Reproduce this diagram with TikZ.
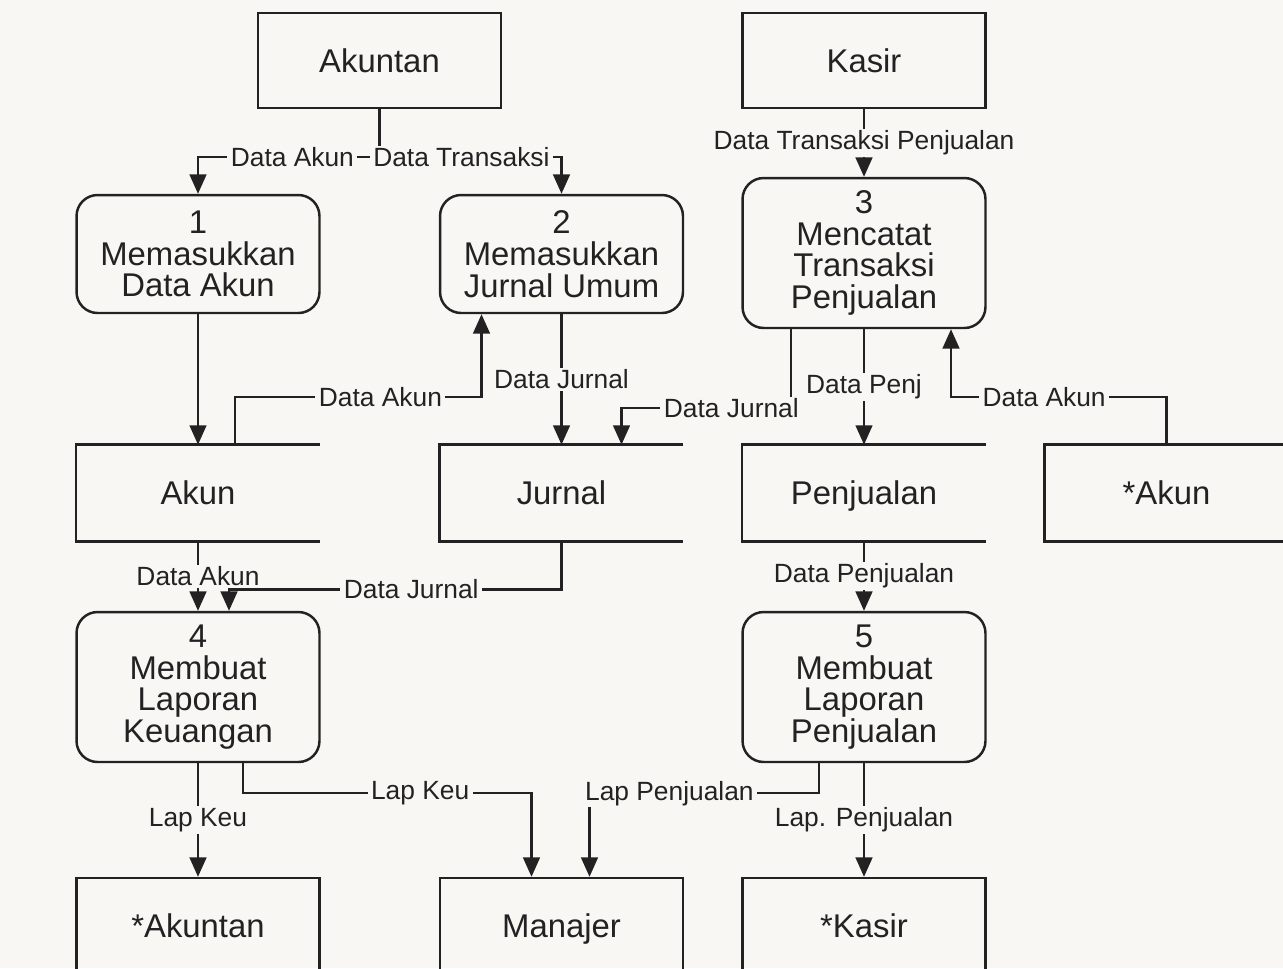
\documentclass[tikz,border=0pt]{standalone}
\usepackage{fontspec}
\setmainfont{Liberation Sans}
\usetikzlibrary{calc,arrows.meta}
\definecolor{dfdBg}{RGB}{249,247,244}
\definecolor{dfdInk}{RGB}{34,34,34}
\newcommand{\boxfont}{\fontsize{18.7}{18.1}\selectfont}
\newcommand{\lblfont}{\fontsize{15}{16}\selectfont}
\tikzset{
  entity/.style={draw=dfdInk, line width=1.4pt, minimum width=4.86cm, minimum height=1.9cm, text height=13.4pt, text depth=0pt, font=\boxfont, text=dfdInk},
  proc/.style={draw=dfdInk, line width=1.4pt, rounded corners=12pt, minimum width=4.86cm, align=center, font=\boxfont, text=dfdInk},
  store/.style={minimum width=4.86cm, minimum height=1.92cm, text height=13.4pt, text depth=0pt, font=\boxfont, text=dfdInk},
  flow/.style={dfdInk, line width=1.3pt, -{Triangle[length=11pt,width=9.5pt]}},
  lbl/.style={fill=dfdBg, text=dfdInk, font=\lblfont, inner xsep=2pt, inner ysep=1pt}
}

\begin{document}
\begin{tikzpicture}[x=0.02cm, y=-0.02cm]
    \useasboundingbox (0,0) rectangle (1283,968);
    \clip (0,0) rectangle (1283,968);
    \fill[dfdBg] (0,0) rectangle (1283,968);

    % external entities
    \node[entity] (akuntan) at (379.5,60.5) {Akuntan};
    \node[entity] (kasir) at (864,60.5) {Kasir};

    % processes
    \node[proc, minimum height=2.36cm] (p1) at (198,254) {1\\Memasukkan\\Data Akun};
    \node[proc, minimum height=2.36cm] (p2) at (561.5,254) {2\\Memasukkan\\Jurnal Umum};
    \node[proc, minimum height=3cm] (p3) at (864,253) {3\\Mencatat\\Transaksi\\Penjualan};
    \node[proc, minimum height=3cm] (p4) at (198,687) {4\\Membuat\\Laporan\\Keuangan};
    \node[proc, minimum height=3cm] (p5) at (864,687) {5\\Membuat\\Laporan\\Penjualan};

    % data stores (open on the right)
    \node[store] (akun) at (198,493) {Akun};
    \node[store] (jurnal) at (561.5,493) {Jurnal};
    \node[store] (penj) at (864,493) {Penjualan};
    \node[store] (akunx) at (1166.5,493) {*Akun};
    \foreach \s in {akun,jurnal,penj,akunx}
        \draw[dfdInk, line width=1.4pt] (\s.north east) -- (\s.north west) -- (\s.south west) -- (\s.south east);

    % bottom entities, cut by the page edge
    \node[entity] (akuntanx) at (198,925.5) {*Akuntan};
    \node[entity] (manajer) at (561.5,925.5) {Manajer};
    \node[entity] (kasirx) at (864,925.5) {*Kasir};

    % top flows
    \draw[flow] (akuntan.south) -- ++(0,48) -| node[lbl, pos=0.24] {Data Akun} (p1.north);
    \draw[flow] (akuntan.south) -- ++(0,48) -| node[lbl, pos=0.225] {Data Transaksi} (p2.north);
    \draw[flow] (kasir.south) -- node[lbl] {Data Transaksi Penjualan} (p3.north);

    % middle flows
    \draw[flow] (p1.south) -- (akun.north);
    \draw[flow] ($(akun.north)+(37,0)$) -- ++(0,-48) -| node[lbl, pos=0.295] {Data Akun} ($(p2.south)+(-80,0)$);
    \draw[flow] (p2.south) -- node[lbl] {Data Jurnal} (jurnal.north);
    \draw[flow] ($(p3.south)+(-73,0)$) -- ++(0,79) -| node[lbl, pos=0.176] {Data Jurnal} ($(jurnal.north)+(60,0)$);
    \draw[flow] (p3.south) -- node[lbl] {Data Penj} (penj.north);
    \draw[flow] (akunx.north) -- ++(0,-48) -| node[lbl, pos=0.284] {Data Akun} ($(p3.south)+(87,0)$);

    % flows to the report processes
    \draw[flow] (akun.south) -- node[lbl] {Data Akun} (p4.north);
    \draw[flow] (jurnal.south) -- ++(0,48) -| node[lbl, pos=0.226] {Data Jurnal} ($(p4.north)+(31,0)$);
    \draw[flow] (penj.south) -- node[lbl] {Data Penjualan} (p5.north);

    % reports
    \draw[flow] (p4.south) -- node[lbl] {Lap Keu} (akuntanx.north);
    \draw[flow] ($(p4.south)+(45,0)$) -- ++(0,30) -| node[lbl, pos=0.307] {Lap Keu} ($(manajer.north)+(-30,0)$);
    \draw[flow] ($(p5.south)+(-45,0)$) -- ++(0,30) -| node[lbl, pos=0.326] {Lap Penjualan} ($(manajer.north)+(28,0)$);
    \draw[flow] (p5.south) -- node[lbl] {Lap. Penjualan} (kasirx.north);
\end{tikzpicture}
\end{document}
